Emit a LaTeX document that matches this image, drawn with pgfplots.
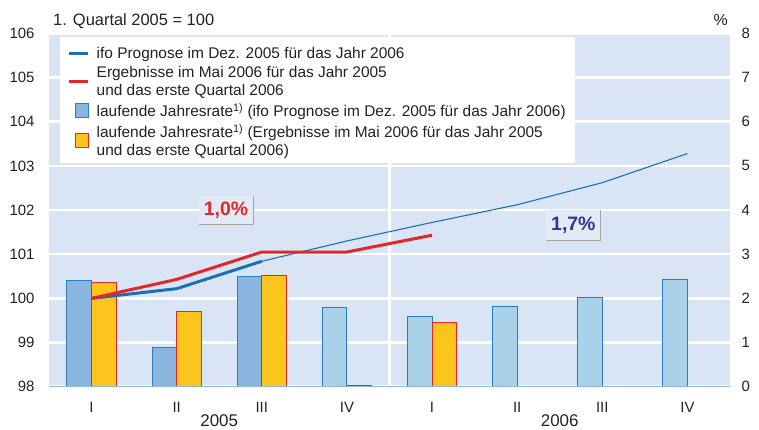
\documentclass[border=0pt]{standalone}
\usepackage{pgfplots}
\pgfplotsset{compat=1.18}
\usepackage{pgfplotstable}
\usepackage{fontspec}
\setmainfont{Liberation Sans}
\definecolor{bg}{HTML}{D9E5F4}
\definecolor{boxbg}{HTML}{E2EAF6}
\definecolor{ifoblue}{HTML}{1A6FB5}
\definecolor{ergred}{HTML}{E3262B}
\definecolor{bardark}{HTML}{8AB5DE}
\definecolor{barlight}{HTML}{A9D2EA}
\definecolor{barborder}{HTML}{2B7BC0}
\definecolor{baryellow}{HTML}{FBC51D}
\definecolor{axisline}{HTML}{8DB9DD}
\definecolor{lblue}{HTML}{2B3990}
\definecolor{txt}{HTML}{222222}

% bar x positions: quarter centre -/+ 0.145
\pgfplotstableread{
x v
0.355 2.40
1.355 0.89
2.355 2.50
}\darkbars
\pgfplotstableread{
x v
3.355 1.80
4.355 1.60
5.355 1.81
6.355 2.01
7.355 2.42
}\lightbars
\pgfplotstableread{
x v
0.645 2.35
1.645 1.71
2.645 2.53
3.645 0.03
4.645 1.46
}\yellowbars
\pgfplotstableread{
x y
0.5 100.00
1.5 100.22
2.5 100.84
}\ifothick
\pgfplotstableread{
x y
2.5 100.84
3.5 101.30
4.5 101.72
5.5 102.12
6.5 102.62
7.5 103.28
}\ifothin
\pgfplotstableread{
x y
0.5 100.00
1.5 100.43
2.5 101.05
3.5 101.05
4.5 101.43
}\ergline

\begin{document}
\begin{tikzpicture}
\path[use as bounding box] (0,0) rectangle (759bp,430bp);
\pgfplotsset{
  base/.style={
    at={(49bp,43.3bp)}, anchor=south west,
    scale only axis, width=681bp, height=353.3bp,
    xmin=0, xmax=8,
    axis line style={draw=none},
    major tick length=0pt,
    tick label style={font=\fontsize{15}{16}\selectfont, text=txt},
    /pgf/number format/assume math mode=true,
  }
}
% ---------- axis 1: background, grid, bars, right axis ----------
\begin{axis}[base,
  ymin=0, ymax=8,
  axis background/.style={fill=bg},
  ytick={0,1,...,8}, ytick pos=right,
  yticklabel style={anchor=west, xshift=8bp},
  xtick={0.5,1.5,...,7.5}, xtick pos=bottom,
  xticklabels={I,II,III,IV,I,II,III,IV},
  xticklabel style={anchor=north, yshift=-12bp},
  ymajorgrids, major grid style={white, line width=2.5pt},
  extra x ticks={4}, extra x tick labels={},
  extra x tick style={xmajorgrids=true, major grid style={white, line width=2.5pt}},
  ybar, bar width=0.29, 
]
\addplot[bar shift=0pt, fill=bardark, draw=barborder, line width=0.9pt] table[x=x,y=v] {\darkbars};
\addplot[bar shift=0pt, fill=barlight, draw=barborder, line width=0.9pt] table[x=x,y=v] {\lightbars};
\addplot[bar shift=0pt, fill=baryellow, draw=ergred, line width=0.9pt] table[x=x,y=v] {\yellowbars};
\end{axis}
% ---------- axis 2: lines, left axis, legend ----------
\begin{axis}[base,
  ymin=98, ymax=106,
  ytick={98,99,...,106}, ytick pos=left,
  yticklabel style={anchor=east, xshift=-11bp},
  xtick=\empty,
  clip=false,
  legend cell align=left,
  legend style={at={(axis cs:0.2235,105.74)}, anchor=north west, draw=none, fill=none,
    font=\fontsize{15.5}{18}\selectfont, text=txt, cells={align=left},
    row sep=2.5bp, column sep=5bp, inner sep=0pt},
]
\draw[axisline, line width=1.5pt] (axis cs:0,98) -- (axis cs:8,98);
\fill[white] (axis cs:0.129,103.06) rectangle (axis cs:6.18,105.91);
\addplot[ifoblue, line width=3pt, line join=round,
  legend image code/.code={\draw[ifoblue, line width=2.5pt] (0bp,0bp) -- (19bp,0bp);}]
  table[x=x,y=y] {\ifothick};
\addlegendentry{ifo Prognose im Dez. 2005 für das Jahr 2006}
\addplot[ifoblue, line width=1.1pt, forget plot] table[x=x,y=y] {\ifothin};
\addplot[ergred, line width=3pt, line join=round,
  legend image code/.code={\draw[ergred, line width=2.5pt] (0bp,0bp) -- (19bp,0bp);}]
  table[x=x,y=y] {\ergline};
\addlegendentry{Ergebnisse im Mai 2006 für das Jahr 2005\\und das erste Quartal 2006}
\addlegendimage{legend image code/.code={\draw[fill=bardark, draw=barborder, line width=0.9pt] (6bp,-7bp) rectangle (19bp,7bp);}}
\addlegendentry{laufende Jahresrate\textsuperscript{1)} (ifo Prognose im Dez. 2005 für das Jahr 2006)}
\addlegendimage{legend image code/.code={\draw[fill=baryellow, draw=ergred, line width=0.9pt] (6bp,-7bp) rectangle (19bp,7bp);}}
\addlegendentry{laufende Jahresrate\textsuperscript{1)} (Ergebnisse im Mai 2006 für das Jahr 2005\\und das erste Quartal 2006)}
% value boxes
\node[fill=boxbg, text=ergred, font=\bfseries\fontsize{19.5}{21}\selectfont,
  minimum width=54bp, minimum height=28bp, inner sep=2pt] (a) at (axis cs:2.08,102.0) {1,0\%};
\draw[gray!70, line width=0.8pt] (a.north east) -- (a.south east) -- (a.south west);
\node[fill=boxbg, text=lblue, font=\bfseries\fontsize{19.5}{21}\selectfont,
  minimum width=54bp, minimum height=30bp, inner sep=2pt] (b) at (axis cs:6.16,101.66) {1,7\%};
\draw[gray!70, line width=0.8pt] (b.north east) -- (b.south east) -- (b.south west);
\node[anchor=base west, font=\fontsize{16.5}{18}\selectfont, text=txt, inner sep=0pt] at (axis cs:0.047,106) [yshift=8bp] {1. Quartal 2005 = 100};
\node[anchor=base east, font=\fontsize{16}{18}\selectfont, text=txt, inner sep=0pt] at (axis cs:7.976,106) [yshift=8bp] {\%};
\node[anchor=base, font=\fontsize{17}{18}\selectfont, text=txt, inner sep=0pt] at (axis cs:2,98) [yshift=-39.5bp] {2005};
\node[anchor=base, font=\fontsize{17}{18}\selectfont, text=txt, inner sep=0pt] at (axis cs:6,98) [yshift=-39.5bp] {2006};
\end{axis}
\end{tikzpicture}
\end{document}
